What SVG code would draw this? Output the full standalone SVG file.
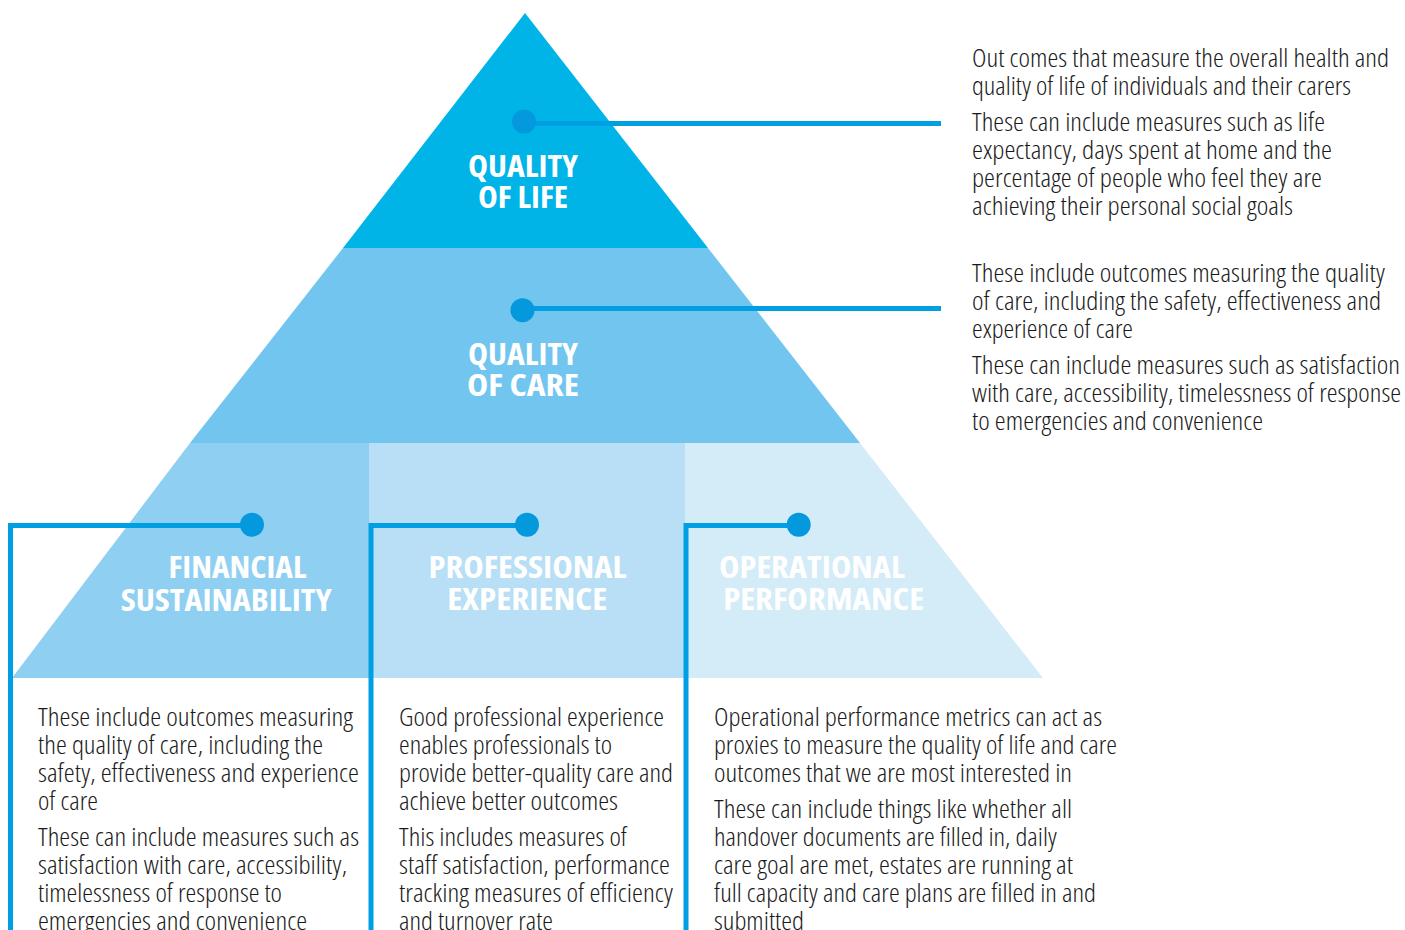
<svg xmlns="http://www.w3.org/2000/svg" width="1405" height="930" viewBox="0 0 1405 930">
<style>
.title{font-family:"Open Sans","Liberation Sans",sans-serif;font-weight:700;font-stretch:condensed;font-size:30px;fill:#ffffff;text-anchor:middle}
.body{font-family:"Open Sans","Liberation Sans",sans-serif;font-weight:300;font-stretch:condensed;font-size:25px;fill:#1a1a1a}
.conn{fill:none;stroke:#009FE3;stroke-width:5}
.dot{fill:#0399DC}
</style>
<rect width="1405" height="930" fill="#ffffff"/>
<g id="quality-of-life">
<polygon points="525,13 708,248 343,248" fill="#00B4E8"/>
<text class="title" x="523" y="177" textLength="110" lengthAdjust="spacingAndGlyphs">QUALITY</text>
<text class="title" x="523" y="207.5" textLength="90" lengthAdjust="spacingAndGlyphs">OF LIFE</text>
<g class="body">
<text x="972" y="67" textLength="417" lengthAdjust="spacingAndGlyphs">Out comes that measure the overall health and</text>
<text x="972" y="95" textLength="379" lengthAdjust="spacingAndGlyphs">quality of life of individuals and their carers</text>
<text x="972" y="131" textLength="353" lengthAdjust="spacingAndGlyphs">These can include measures such as life</text>
<text x="972" y="159" textLength="360" lengthAdjust="spacingAndGlyphs">expectancy, days spent at home and the</text>
<text x="972" y="187" textLength="350" lengthAdjust="spacingAndGlyphs">percentage of people who feel they are</text>
<text x="972" y="215" textLength="321" lengthAdjust="spacingAndGlyphs">achieving their personal social goals</text>
</g>
</g>
<g id="quality-of-care">
<polygon points="343,248 708,248 860,443 190,443" fill="#72C5EF"/>
<text class="title" x="523" y="365" textLength="110" lengthAdjust="spacingAndGlyphs">QUALITY</text>
<text class="title" x="523" y="396" textLength="112" lengthAdjust="spacingAndGlyphs">OF CARE</text>
<g class="body">
<text x="972" y="282" textLength="413" lengthAdjust="spacingAndGlyphs">These include outcomes measuring the quality</text>
<text x="972" y="310" textLength="409" lengthAdjust="spacingAndGlyphs">of care, including the safety, effectiveness and</text>
<text x="972" y="338" textLength="161" lengthAdjust="spacingAndGlyphs">experience of care</text>
<text x="972" y="374" textLength="428" lengthAdjust="spacingAndGlyphs">These can include measures such as satisfaction</text>
<text x="972" y="402" textLength="429" lengthAdjust="spacingAndGlyphs">with care, accessibility, timelessness of response</text>
<text x="972" y="430" textLength="291" lengthAdjust="spacingAndGlyphs">to emergencies and convenience</text>
</g>
</g>
<g id="financial-sustainability">
<polygon points="190,443 369,443 369,678 12,678" fill="#8FD0F2"/>
<text class="title" x="237.5" y="578" textLength="138" lengthAdjust="spacingAndGlyphs">FINANCIAL</text>
<text class="title" x="226.2" y="610.5" textLength="211" lengthAdjust="spacingAndGlyphs">SUSTAINABILITY</text>
<g class="body">
<text x="38" y="726" textLength="315" lengthAdjust="spacingAndGlyphs">These include outcomes measuring</text>
<text x="38" y="754" textLength="285" lengthAdjust="spacingAndGlyphs">the quality of care, including the</text>
<text x="38" y="782" textLength="321" lengthAdjust="spacingAndGlyphs">safety, effectiveness and experience</text>
<text x="38" y="810" textLength="60" lengthAdjust="spacingAndGlyphs">of care</text>
<text x="38" y="846" textLength="321" lengthAdjust="spacingAndGlyphs">These can include measures such as</text>
<text x="38" y="874" textLength="309" lengthAdjust="spacingAndGlyphs">satisfaction with care, accessibility,</text>
<text x="38" y="902" textLength="244" lengthAdjust="spacingAndGlyphs">timelessness of response to</text>
<text x="38" y="930" textLength="269" lengthAdjust="spacingAndGlyphs">emergencies and convenience</text>
</g>
</g>
<g id="professional-experience">
<polygon points="369,443 685,443 685,678 369,678" fill="#B8DFF5"/>
<text class="title" x="527.5" y="578" textLength="198" lengthAdjust="spacingAndGlyphs">PROFESSIONAL</text>
<text class="title" x="527.3" y="610" textLength="160" lengthAdjust="spacingAndGlyphs">EXPERIENCE</text>
<g class="body">
<text x="399" y="726" textLength="265" lengthAdjust="spacingAndGlyphs">Good professional experience</text>
<text x="399" y="754" textLength="213" lengthAdjust="spacingAndGlyphs">enables professionals to</text>
<text x="399" y="782" textLength="274" lengthAdjust="spacingAndGlyphs">provide better-quality care and</text>
<text x="399" y="810" textLength="219" lengthAdjust="spacingAndGlyphs">achieve better outcomes</text>
<text x="399" y="846" textLength="228" lengthAdjust="spacingAndGlyphs">This includes measures of</text>
<text x="399" y="874" textLength="271" lengthAdjust="spacingAndGlyphs">staff satisfaction, performance</text>
<text x="399" y="902" textLength="274" lengthAdjust="spacingAndGlyphs">tracking measures of efficiency</text>
<text x="399" y="930" textLength="154" lengthAdjust="spacingAndGlyphs">and turnover rate</text>
</g>
</g>
<g id="operational-performance">
<polygon points="685,443 860,443 1043,678 685,678" fill="#D4EBF8"/>
<text class="title" x="812" y="578" textLength="186" lengthAdjust="spacingAndGlyphs">OPERATIONAL</text>
<text class="title" x="823.7" y="610" textLength="201" lengthAdjust="spacingAndGlyphs">PERFORMANCE</text>
<g class="body">
<text x="714" y="726" textLength="388" lengthAdjust="spacingAndGlyphs">Operational performance metrics can act as</text>
<text x="714" y="754" textLength="403" lengthAdjust="spacingAndGlyphs">proxies to measure the quality of life and care</text>
<text x="714" y="782" textLength="358" lengthAdjust="spacingAndGlyphs">outcomes that we are most interested in</text>
<text x="714" y="818" textLength="358" lengthAdjust="spacingAndGlyphs">These can include things like whether all</text>
<text x="714" y="846" textLength="343" lengthAdjust="spacingAndGlyphs">handover documents are filled in, daily</text>
<text x="714" y="874" textLength="359" lengthAdjust="spacingAndGlyphs">care goal are met, estates are running at</text>
<text x="714" y="902" textLength="382" lengthAdjust="spacingAndGlyphs">full capacity and care plans are filled in and</text>
<text x="714" y="930" textLength="90" lengthAdjust="spacingAndGlyphs">submitted</text>
</g>
</g>
<g id="connectors">
<line class="conn" x1="524" y1="123.5" x2="941" y2="123.5"/>
<circle class="dot" cx="524" cy="121.5" r="12"/>
<line class="conn" x1="522" y1="308.5" x2="941" y2="308.5"/>
<circle class="dot" cx="522.5" cy="310.3" r="12"/>
<polyline class="conn" points="252,525.5 10.5,525.5 10.5,930"/>
<circle class="dot" cx="252" cy="524.7" r="12"/>
<polyline class="conn" points="527,525.5 371,525.5 371,930"/>
<circle class="dot" cx="527" cy="524.7" r="12"/>
<polyline class="conn" points="798,525.5 686,525.5 686,930"/>
<circle class="dot" cx="798.7" cy="524.7" r="12"/>
</g>
</svg>
